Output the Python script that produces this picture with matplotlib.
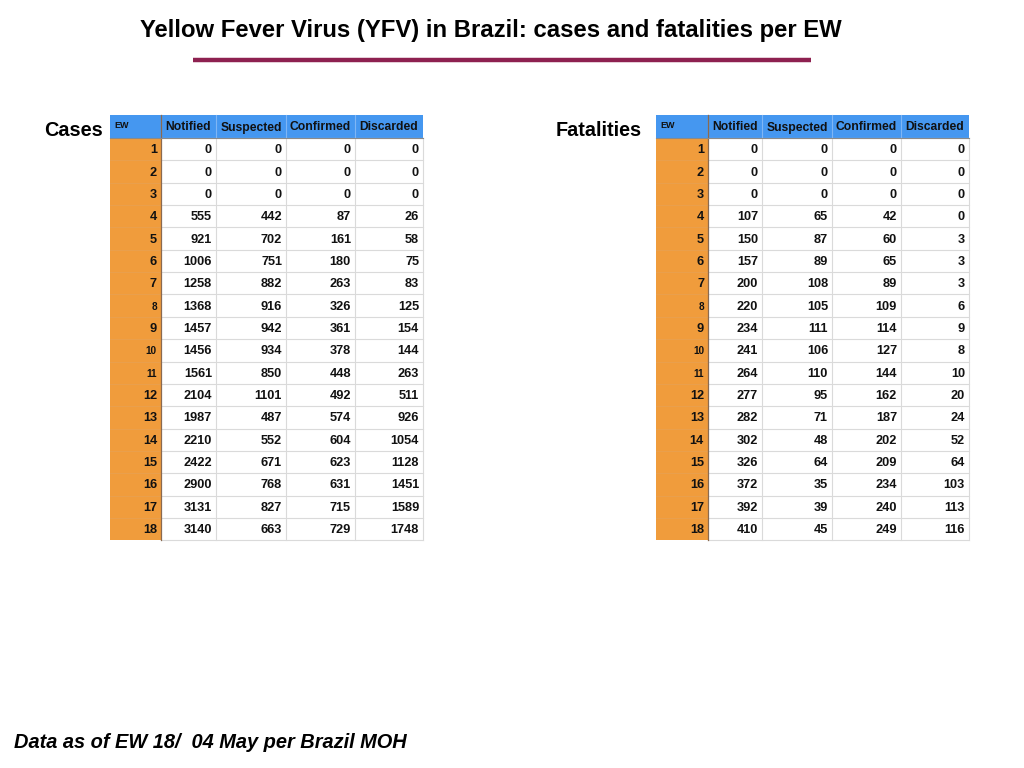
import matplotlib.pyplot as plt
from matplotlib.patches import Rectangle

plt.rcParams["font.family"] = ["Liberation Sans", "DejaVu Sans"]

title = "Yellow Fever Virus (YFV) in Brazil: cases and fatalities per EW"
footnote = "Data as of EW 18/  04 May per Brazil MOH"

columns = ["Notified", "Suspected", "Confirmed", "Discarded"]
ew = list(range(1, 19))

cases_notified = [0, 0, 0, 555, 921, 1006, 1258, 1368, 1457, 1456, 1561, 2104, 1987, 2210, 2422, 2900, 3131, 3140]
cases_suspected = [0, 0, 0, 442, 702, 751, 882, 916, 942, 934, 850, 1101, 487, 552, 671, 768, 827, 663]
cases_confirmed = [0, 0, 0, 87, 161, 180, 263, 326, 361, 378, 448, 492, 574, 604, 623, 631, 715, 729]
cases_discarded = [0, 0, 0, 26, 58, 75, 83, 125, 154, 144, 263, 511, 926, 1054, 1128, 1451, 1589, 1748]

fat_notified = [0, 0, 0, 107, 150, 157, 200, 220, 234, 241, 264, 277, 282, 302, 326, 372, 392, 410]
fat_suspected = [0, 0, 0, 65, 87, 89, 108, 105, 111, 106, 110, 95, 71, 48, 64, 35, 39, 45]
fat_confirmed = [0, 0, 0, 42, 60, 65, 89, 109, 114, 127, 144, 162, 187, 202, 209, 234, 240, 249]
fat_discarded = [0, 0, 0, 0, 3, 3, 3, 6, 9, 8, 10, 20, 24, 52, 64, 103, 113, 116]

# EW labels drawn in a smaller font in the original
small_ew = [8, 10, 11]

BLUE = "#4597F0"
ORANGE = "#F09C3C"
GRID = "#DADADA"


def draw_table(ax, edges, top, series):
    head_h = 23
    row_h = 22.35
    x0, x1 = edges[0], edges[-1]
    # header
    ax.add_patch(Rectangle((x0, top), x1 - x0, head_h, color=BLUE, lw=0))
    ax.text(x0 + 4, top + 13.5, "EW", fontsize=6.5, fontweight="bold",
            ha="left", va="baseline", color="#111111")
    for j, name in enumerate(columns):
        xc = (edges[j + 1] + edges[j + 2]) / 2
        ax.text(xc, top + 15.5, name, fontsize=8.7, fontweight="bold",
                ha="center", va="baseline", color="#111111")
    for j in range(1, len(edges) - 1):
        ax.plot([edges[j], edges[j]], [top, top + head_h], color="#7FB6F5", lw=0.8)
    body_top = top + head_h
    n = len(ew)
    ax.add_patch(Rectangle((x0, body_top), edges[1] - x0, n * row_h, color=ORANGE, lw=0))
    for i in range(n + 1):
        y = body_top + i * row_h
        ax.plot([edges[1], x1], [y, y], color=GRID, lw=0.8)
        if 0 < i < n:
            ax.plot([x0, edges[1]], [y, y], color="#E8A050", lw=0.6)
    for j in range(2, len(edges)):
        ax.plot([edges[j], edges[j]], [body_top, body_top + n * row_h], color=GRID, lw=0.8)
    ax.plot([edges[1], edges[1]], [top, body_top + n * row_h], color="#8A6A50", lw=0.9)
    ax.plot([x0, x1], [body_top, body_top], color="#8A8A8A", lw=0.8)
    for i, w in enumerate(ew):
        yc = body_top + (i + 0.5) * row_h + 1
        fs = 7.2 if w in small_ew else 9.2
        ax.text(edges[1] - 4, yc, str(w), fontsize=fs, fontweight="bold",
                ha="right", va="center", color="#111111")
        for j, s in enumerate(series):
            ax.text(edges[j + 2] - 4, yc, str(s[i]), fontsize=9.2, fontweight="bold",
                    ha="right", va="center", color="#111111")


fig = plt.figure(figsize=(10.24, 7.68), dpi=100)
ax = fig.add_axes([0, 0, 1, 1])
ax.set_xlim(0, 1024)
ax.set_ylim(768, 0)
ax.axis("off")

ax.text(491, 30.5, title, fontsize=17.2, fontweight="bold", ha="center", va="center")
ax.plot([193, 811], [60, 60], color="#8E2150", lw=3.2, solid_capstyle="butt")

ax.text(103, 131, "Cases", fontsize=14.3, fontweight="bold", ha="right", va="center")
ax.text(642, 131, "Fatalities", fontsize=14.2, fontweight="bold", ha="right", va="center")

draw_table(ax, [110, 161, 216, 286, 355, 423], 115,
           [cases_notified, cases_suspected, cases_confirmed, cases_discarded])
draw_table(ax, [656, 708, 762, 832, 901, 969], 115,
           [fat_notified, fat_suspected, fat_confirmed, fat_discarded])

ax.text(14, 742.5, footnote, fontsize=14.4, fontweight="bold", fontstyle="italic",
        ha="left", va="center")

fig.savefig("out.png", dpi=100)
